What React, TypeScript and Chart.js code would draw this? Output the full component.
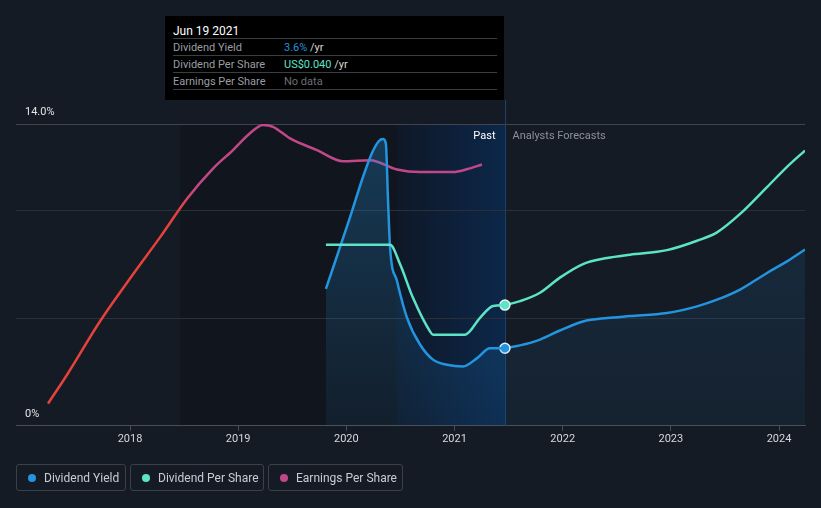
import React, { useEffect, useRef } from "react";
import { Chart, registerables } from "chart.js";

Chart.register(...registerables);

// ---- Data ----
const yearTicks = [2018, 2019, 2020, 2021, 2022, 2023, 2024];
const yieldTicks = [0, 5, 10, 14];

const presentYear = 2021.466; // Jun 19 2021
const xMin = 2016.946;
const xMax = 2024.24;

// Dividend Yield (%)
const yieldYears = [
  2019.811, 2020.033, 2020.153, 2020.237, 2020.301, 2020.339, 2020.365, 2020.385, 2020.404,
  2020.468, 2020.561, 2020.681, 2020.801, 2020.931, 2021.078, 2021.208, 2021.328, 2021.466,
  2021.605, 2021.79, 2021.974, 2022.188, 2022.41, 2022.622, 2022.964, 2023.242, 2023.427,
  2023.64, 2023.889, 2024.074, 2024.24,
];
const yieldValues = [
  6.35, 9.66, 11.53, 12.65, 13.21, 13.3, 13.1, 10.5, 8.27,
  6.72, 5.01, 3.77, 3.07, 2.83, 2.75, 3.14, 3.6, 3.6,
  3.73, 4.0, 4.42, 4.84, 5.0, 5.09, 5.23, 5.54, 5.85,
  6.32, 7.09, 7.63, 8.18,
];

// Dividend Per Share (US$)
const dpsYears = [
  2019.811, 2020.404, 2020.496, 2020.616, 2020.773, 2020.801, 2021.097, 2021.236, 2021.356,
  2021.466, 2021.605, 2021.79, 2021.974, 2022.188, 2022.41, 2022.622, 2022.964, 2023.242,
  2023.427, 2023.64, 2023.889, 2024.074, 2024.24,
];
const dpsValues = [
  0.06, 0.06, 0.0536, 0.0424, 0.0313, 0.0302, 0.0302, 0.0358, 0.0397,
  0.04, 0.0413, 0.0441, 0.0491, 0.0536, 0.0556, 0.0567, 0.0582, 0.0613,
  0.0641, 0.0702, 0.0791, 0.0858, 0.0912,
];

// Earnings Per Share (US$)
const epsYears = [
  2017.242, 2017.418, 2017.723, 2018.028, 2018.277, 2018.527, 2018.767, 2018.952, 2019.109,
  2019.229, 2019.322, 2019.479, 2019.728, 2019.969, 2020.218, 2020.468, 2020.68, 2020.985,
  2021.115, 2021.253,
];
const epsValues = [
  0.103, 0.237, 0.485, 0.703, 0.874, 1.053, 1.193, 1.279, 1.357,
  1.395, 1.387, 1.333, 1.279, 1.227, 1.232, 1.189, 1.177, 1.177,
  1.19, 1.212,
];

const BLUE = "#2394df";
const TEAL = "#5de4c7";
const MAGENTA = "#c2478a";
const RED = "#e5423a";

const toPoints = (xs: number[], ys: number[]) => xs.map((x, i) => ({ x, y: ys[i] }));
const pastPoints = (xs: number[], ys: number[]) =>
  toPoints(xs, ys).filter((p) => p.x <= presentYear + 1e-9);
const futurePoints = (xs: number[], ys: number[]) =>
  toPoints(xs, ys).filter((p) => p.x >= presentYear - 1e-9);

const bandsPlugin = {
  id: "bands",
  beforeDraw(chart: any) {
    const { ctx, chartArea, scales } = chart;
    if (!chartArea) return;
    const x = scales.x;
    const top = chartArea.top;
    const h = chartArea.bottom - chartArea.top;
    const xDarkStart = x.getPixelForValue(presentYear - 3);
    const xHiStart = x.getPixelForValue(presentYear - 1);
    const xPresent = x.getPixelForValue(presentYear);
    ctx.save();
    ctx.fillStyle = "#11151d";
    ctx.fillRect(xDarkStart, top, xHiStart - xDarkStart, h);
    const g = ctx.createLinearGradient(xHiStart, 0, xPresent, 0);
    g.addColorStop(0, "#0f1828");
    g.addColorStop(1, "#0c2749");
    ctx.fillStyle = g;
    ctx.fillRect(xHiStart, top, xPresent - xHiStart, h);
    ctx.restore();
  },
  beforeDatasetsDraw(chart: any) {
    const { ctx, chartArea, scales } = chart;
    const xp = Math.round(scales.x.getPixelForValue(presentYear)) + 0.5;
    ctx.save();
    ctx.strokeStyle = "#1d416f";
    ctx.lineWidth = 1;
    ctx.beginPath();
    ctx.moveTo(xp, 100);
    ctx.lineTo(xp, chartArea.bottom);
    ctx.stroke();
    ctx.font = "11px Roboto, sans-serif";
    ctx.textBaseline = "middle";
    ctx.textAlign = "right";
    ctx.fillStyle = "#ffffff";
    ctx.fillText("Past", xp - 10, chartArea.top + 12);
    ctx.textAlign = "left";
    ctx.fillStyle = "#8b9099";
    ctx.fillText("Analysts Forecasts", xp + 7, chartArea.top + 12);
    ctx.restore();
  },
};

function fillGradient(chart: any, a0: number, a1: number) {
  const { ctx, chartArea } = chart;
  if (!chartArea) return "rgba(35,148,223,0.1)";
  const g = ctx.createLinearGradient(0, chartArea.top, 0, chartArea.bottom);
  g.addColorStop(0, `rgba(35,148,223,${a0})`);
  g.addColorStop(1, `rgba(35,148,223,${a1})`);
  return g;
}

function Legend() {
  const items = [
    { label: "Dividend Yield", color: BLUE, left: 16, width: 110 },
    { label: "Dividend Per Share", color: TEAL, left: 130, width: 134 },
    { label: "Earnings Per Share", color: MAGENTA, left: 268, width: 135 },
  ];
  return (
    <>
      {items.map((it) => (
        <div
          key={it.label}
          style={{
            position: "absolute",
            left: it.left,
            top: 464,
            width: it.width,
            height: 27,
            boxSizing: "border-box",
            border: "1px solid #3b4049",
            borderRadius: 3,
            display: "flex",
            alignItems: "center",
            paddingLeft: 11,
            color: "#c9ccd1",
            fontSize: 12,
            whiteSpace: "nowrap",
          }}
        >
          <span
            style={{
              display: "inline-block",
              width: 8,
              height: 8,
              borderRadius: 4,
              background: it.color,
              marginRight: 8,
            }}
          />
          {it.label}
        </div>
      ))}
    </>
  );
}

function TooltipBox() {
  const rowStyle: React.CSSProperties = {
    height: 16,
    borderBottom: "1px solid #3a3d42",
    display: "flex",
    alignItems: "center",
    fontSize: 11,
  };
  const lab: React.CSSProperties = { width: 111, color: "#9a9da3" };
  return (
    <div
      style={{
        position: "absolute",
        left: 165,
        top: 16,
        width: 339,
        height: 84,
        background: "#000",
        boxSizing: "border-box",
        padding: "0 7px 0 8px",
        whiteSpace: "nowrap",
      }}
    >
      <div
        style={{
          height: 23,
          borderBottom: "1px solid #3a3d42",
          display: "flex",
          alignItems: "center",
          paddingTop: 8,
          boxSizing: "border-box",
          color: "#ffffff",
          fontSize: 12,
        }}
      >
        Jun 19 2021
      </div>
      <div style={rowStyle}>
        <span style={lab}>Dividend Yield</span>
        <span style={{ color: BLUE }}>3.6%</span>
        <span style={{ color: "#d8d8d8" }}>&nbsp;/yr</span>
      </div>
      <div style={rowStyle}>
        <span style={lab}>Dividend Per Share</span>
        <span style={{ color: TEAL }}>US$0.040</span>
        <span style={{ color: "#d8d8d8" }}>&nbsp;/yr</span>
      </div>
      <div style={rowStyle}>
        <span style={lab}>Earnings Per Share</span>
        <span style={{ color: "#6b6e73" }}>No data</span>
      </div>
    </div>
  );
}

export default function App() {
  const ref = useRef<HTMLCanvasElement>(null);

  useEffect(() => {
    const canvas = ref.current;
    if (!canvas) return;
    Chart.defaults.font.family = "Roboto, sans-serif";

    const markerAtPresent = (ctx: any) =>
      ctx.raw && Math.abs(ctx.raw.x - presentYear) < 1e-6 ? 5 : 0;

    const common = {
      borderWidth: 2.5,
      cubicInterpolationMode: "monotone",
      pointHoverRadius: 0,
      pointBorderWidth: 1.5,
    };

    const chart = new Chart(canvas, {
      type: "line",
      data: {
        datasets: [
          {
            ...common,
            label: "Dividend Per Share",
            data: pastPoints(dpsYears, dpsValues),
            yAxisID: "yDps",
            borderColor: TEAL,
            fill: false,
            pointRadius: 0,
          },
          {
            ...common,
            label: "Dividend Per Share (forecast)",
            data: futurePoints(dpsYears, dpsValues),
            yAxisID: "yDps",
            borderColor: TEAL,
            fill: false,
            pointRadius: markerAtPresent,
            pointBackgroundColor: TEAL,
            pointBorderColor: "#e6f2f5",
          },
          {
            ...common,
            label: "Dividend Yield",
            data: pastPoints(yieldYears, yieldValues),
            yAxisID: "y",
            borderColor: BLUE,
            fill: "origin",
            backgroundColor: (ctx: any) => fillGradient(ctx.chart, 0.3, 0.08),
            pointRadius: 0,
          },
          {
            ...common,
            label: "Dividend Yield (forecast)",
            data: futurePoints(yieldYears, yieldValues),
            yAxisID: "y",
            borderColor: BLUE,
            fill: "origin",
            backgroundColor: (ctx: any) => fillGradient(ctx.chart, 0.16, 0.06),
            pointRadius: markerAtPresent,
            pointBackgroundColor: BLUE,
            pointBorderColor: "#e6eef7",
          },
          {
            ...common,
            label: "Earnings Per Share",
            data: toPoints(epsYears, epsValues),
            yAxisID: "yEps",
            borderColor: (ctx: any) => {
              const { ctx: c, chartArea } = ctx.chart;
              if (!chartArea) return MAGENTA;
              const g = c.createLinearGradient(0, chartArea.bottom, 0, chartArea.top);
              g.addColorStop(0, RED);
              g.addColorStop(0.7, RED);
              g.addColorStop(0.8, MAGENTA);
              g.addColorStop(1, MAGENTA);
              return g;
            },
            fill: false,
            pointRadius: 0,
          },
        ],
      },
      options: {
        animation: false,
        responsive: false,
        devicePixelRatio: 1,
        events: [],
        layout: { padding: { left: 16, right: 16, top: 124, bottom: 60 } },
        plugins: {
          legend: { display: false },
          tooltip: { enabled: false },
        },
        scales: {
          x: {
            type: "linear",
            min: xMin,
            max: xMax,
            afterBuildTicks: (axis: any) => {
              axis.ticks = yearTicks.map((v) => ({ value: v }));
            },
            grid: {
              drawOnChartArea: false,
              drawTicks: true,
              tickLength: 5,
              color: "#4a4f57",
            },
            border: { display: true, color: "#4a4f57", width: 1 },
            ticks: {
              color: "#d6d8dc",
              font: { size: 11 },
              padding: 2,
              maxRotation: 0,
              autoSkip: false,
              callback: (v: any) => String(v),
            },
          },
          y: {
            type: "linear",
            min: 0,
            max: 14,
            position: "left",
            afterBuildTicks: (axis: any) => {
              axis.ticks = yieldTicks.map((v) => ({ value: v }));
            },
            afterFit: (axis: any) => {
              axis.width = 0;
            },
            grid: {
              drawTicks: false,
              color: (ctx: any) =>
                ctx.tick && ctx.tick.value === 14
                  ? "#3f444d"
                  : ctx.tick && ctx.tick.value === 0
                  ? "rgba(0,0,0,0)"
                  : "#2a2f38",
            },
            border: { display: false },
            ticks: {
              mirror: true,
              padding: 9,
              labelOffset: -12,
              color: "#e2e4e7",
              font: { size: 11 },
              autoSkip: false,
              callback: (v: any) => (v === 14 ? "14.0%" : v === 0 ? "0%" : ""),
            },
          },
          yDps: { type: "linear", min: 0, max: 0.1, display: false },
          yEps: { type: "linear", min: 0, max: 1.4, display: false },
        },
      },
      plugins: [bandsPlugin],
    } as any);

    return () => chart.destroy();
  }, []);

  return (
    <div
      style={{
        position: "fixed",
        left: 0,
        top: 0,
        width: 821,
        height: 508,
        background: "#151b25",
        fontFamily: "Roboto, sans-serif",
        overflow: "hidden",
      }}
    >
      <canvas
        ref={ref}
        width={821}
        height={508}
        style={{ position: "absolute", left: 0, top: 0, width: 821, height: 508 }}
      />
      <TooltipBox />
      <Legend />
    </div>
  );
}
